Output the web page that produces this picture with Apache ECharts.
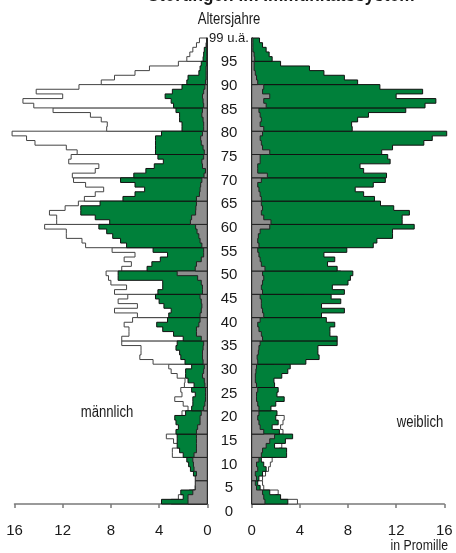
<!DOCTYPE html>
<html><head><meta charset="utf-8">
<script src="https://cdn.jsdelivr.net/npm/echarts@6/dist/echarts.min.js"></script>
<style>html,body{margin:0;padding:0;background:#fff}#c{width:456px;height:553px}</style>
</head><body><div id="c"></div>
<script>
// Ages 0..99 (99 = "99 u.ä.")
const title = 'Störungen im Immunitätssystem';
const ageTickLabels = ['0','5','10','15','20','25','30','35','40','45','50','55','60','65','70','75','80','85','90','95','99 u.ä.'];
const xTickLabels = [0, 4, 8, 12, 16];

// männlich, green layer (per mille), index = age
const maleGreen = [3.8,2.0,2.2,1.0,0.9,0.9,1.15,1.4,1.55,1.7,
  2.0,2.3,2.5,2.5,2.5,2.6,2.4,2.6,2.7,1.8,
  1.3,1.2,1.2,1.0,1.3,1.1,1.6,1.8,1.8,1.3,
  1.85,2.2,2.3,2.6,2.5,2.0,2.8,3.7,4.2,3.3,
  3.2,3.0,3.6,4.0,4.3,4.1,3.7,3.7,7.4,7.4,
  5.0,4.6,3.9,3.3,4.5,6.7,7.2,7.85,8.35,9.0,
  8.1,9.3,10.5,10.5,8.9,7.0,6.0,5.2,6.0,7.2,
  6.1,5.1,4.4,3.65,4.1,4.3,4.3,4.3,4.3,3.8,
  2.1,2.1,2.3,2.3,2.6,2.8,3.0,3.5,2.9,2.1,
  1.7,1.6,0.7,0.6,0.5,0.35,0.3,0.25,0.1,0.05];
// männlich, grey layer
const maleGray = [1.6,1.6,1.2,1.0,1.0,1.0,0.9,1.1,1.15,1.2,
  1.1,0.9,0.9,0.9,0.9,0.9,0.8,0.6,0.6,0.5,
  0.3,0.2,0.15,0.15,0.15,0.2,0.25,0.4,0.3,0.25,
  0.35,0.4,0.4,0.35,0.3,0.5,0.9,0.9,0.7,0.6,
  0.6,0.5,0.45,0.5,0.6,0.4,0.4,0.5,0.8,2.5,
  1.0,0.9,0.5,0.3,0.3,0.45,0.6,0.7,0.85,0.97,
  1.4,1.3,0.97,0.95,0.9,0.9,0.65,0.6,0.55,0.45,
  0.27,0.15,0.4,0.45,0.3,0.25,0.35,0.5,0.55,0.4,
  0.3,0.3,0.35,0.45,0.4,0.3,0.35,0.4,0.3,0.2,
  0.15,0.1,0.1,0.1,0.05,0.05,0.05,0.05,0.05,0.05];
// weiblich, green layer
const femaleGreen = [3.0,2.4,1.5,0.7,0.5,0.6,0.9,1.2,1.0,0.8,
  2.9,2.9,1.9,2.8,3.4,2.3,1.7,2.2,2.0,2.1,
  1.6,2.0,2.7,2.1,2.2,1.9,1.85,2.5,3.0,3.2,
  4.5,5.6,5.5,5.5,7.1,7.1,6.5,6.5,6.9,6.2,
  5.8,7.7,5.8,7.4,6.6,7.7,6.7,8.0,8.2,8.4,
  7.1,6.3,6.9,6.0,7.9,10.1,10.4,11.7,11.7,13.5,
  12.5,12.5,13.1,11.8,10.7,10.2,9.3,8.6,10.1,11.1,
  11.2,9.3,9.0,11.5,11.3,10.8,11.7,14.3,15.0,16.2,
  8.35,8.3,8.8,9.7,12.8,14.4,15.3,12.0,14.2,10.65,
  8.8,7.7,6.0,4.8,2.4,1.7,1.45,1.2,0.9,0.65];
// weiblich, grey layer
const femaleGray = [1.1,1.0,0.9,0.4,0.3,0.4,0.3,0.5,0.4,0.6,
  0.8,0.9,1.2,1.5,1.9,1.0,0.7,0.6,0.5,0.6,
  0.6,0.5,0.4,0.4,0.5,0.4,0.3,0.3,0.35,0.4,
  0.5,0.45,0.55,0.6,0.7,0.9,0.8,0.6,0.5,0.7,
  1.0,0.9,0.8,0.8,0.7,0.9,0.8,0.9,1.0,0.9,
  1.1,0.8,0.7,0.6,0.5,0.6,0.5,0.55,0.7,1.5,
  1.6,1.0,0.8,0.9,0.8,0.8,0.7,0.6,0.5,0.8,
  1.3,0.5,0.5,0.7,0.7,1.5,0.9,0.8,0.7,0.9,
  1.0,0.7,0.8,0.7,0.6,1.2,1.0,1.5,0.9,1.0,
  0.5,0.4,0.3,0.2,0.2,0.25,0.2,0.1,0.1,0.1];

const FONT = "'Liberation Sans', Arial, sans-serif";
const GREEN = '#00803a', GREY = '#8e8e8e';
const SX = 0.82; // horizontal squeeze to mimic the condensed face of the original

function groups(vals){
  const out = [];
  for (let g = 0; g < vals.length; g += 5) out.push([g].concat(vals.slice(g, g + 5)));
  return out;
}
function layer(vals, grid, fill, stroke, z){
  return {
    type: 'custom', xAxisIndex: grid, yAxisIndex: grid, z: z, silent: true,
    clip: false,
    encode: {x: [1,2,3,4,5], y: 0},
    data: groups(vals),
    renderItem: function(params, api){
      const a0 = api.value(0);
      const pts = [api.coord([0, a0])];
      for (let i = 0; i < 5; i++){
        const v = api.value(i + 1);
        pts.push(api.coord([v, a0 + i]));
        pts.push(api.coord([v, a0 + i + 1]));
      }
      pts.push(api.coord([0, a0 + 5]));
      return {type: 'polygon', shape: {points: pts},
        style: {fill: fill, stroke: stroke, lineWidth: 1}};
    }
  };
}
function xAx(grid, inverse){
  return {
    type: 'value', gridIndex: grid, min: 0, max: 16, interval: 4, inverse: inverse,
    position: 'bottom', offset: 4,
    axisLine: {show: true, lineStyle: {color: '#7a7a7a', width: 1.5}},
    axisTick: {show: true, length: 4, lineStyle: {color: '#7a7a7a', width: 1.5}},
    splitLine: {show: false},
    axisLabel: {fontFamily: FONT, fontSize: 15, color: '#1a1a1a', margin: 15,
      customValues: xTickLabels}
  };
}
function txt(s, x, y, size, align, bold){
  return {type: 'text', x: x, y: y, scaleX: SX, z: 10,
    style: {text: s, x: 0, y: 0, font: (bold ? 'bold ' : '') + size + 'px ' + FONT,
      fill: '#1a1a1a', textAlign: align, textVerticalAlign: 'middle'}};
}

const chart = echarts.init(document.getElementById('c'), null, {renderer: 'canvas'});
chart.setOption({
  animation: false,
  grid: [
    {left: 14.5, width: 192.8, top: 38, height: 466},
    {left: 251.7, width: 192.6, top: 38, height: 466},
    {left: 240, width: 1, top: 38.7, height: 473}
  ],
  xAxis: [xAx(0, true), xAx(1, false), {type: 'value', gridIndex: 2, show: false, min: 0, max: 1}],
  yAxis: [
    {type: 'value', gridIndex: 0, min: 0, max: 100, show: false},
    {type: 'value', gridIndex: 1, min: 0, max: 100, show: false},
    {type: 'value', gridIndex: 2, min: 0, max: 100, interval: 5, z: 10,
      axisLine: {show: false}, axisTick: {show: false}, splitLine: {show: false},
      axisLabel: {fontFamily: FONT, fontSize: 15, color: '#1a1a1a', align: 'center', margin: 11,
        formatter: function(v){ const i = Math.round(v / 5); return i === 20 ? '{s|' + ageTickLabels[i] + '}' : ageTickLabels[i]; },
        rich: {s: {fontFamily: FONT, fontSize: 13, color: '#1a1a1a'}}}}
  ],
  series: [
    layer(femaleGreen, 0, '#ffffff', '#444', 1),
    layer(maleGreen, 0, GREEN, '#111', 2),
    layer(maleGray, 0, GREY, '#222', 3),
    layer(maleGreen, 1, '#ffffff', '#444', 1),
    layer(femaleGreen, 1, GREEN, '#111', 2),
    layer(femaleGray, 1, GREY, '#222', 3)
  ],
  graphic: [
    txt(title, 281, -5, 21, 'center', true),
    txt('Altersjahre', 229, 20, 16, 'center'),
    txt('männlich', 107, 413, 16, 'center'),
    txt('weiblich', 420, 423, 16, 'center'),
    txt('in Promille', 448, 546, 15, 'right')
  ]
});
</script></body></html>
